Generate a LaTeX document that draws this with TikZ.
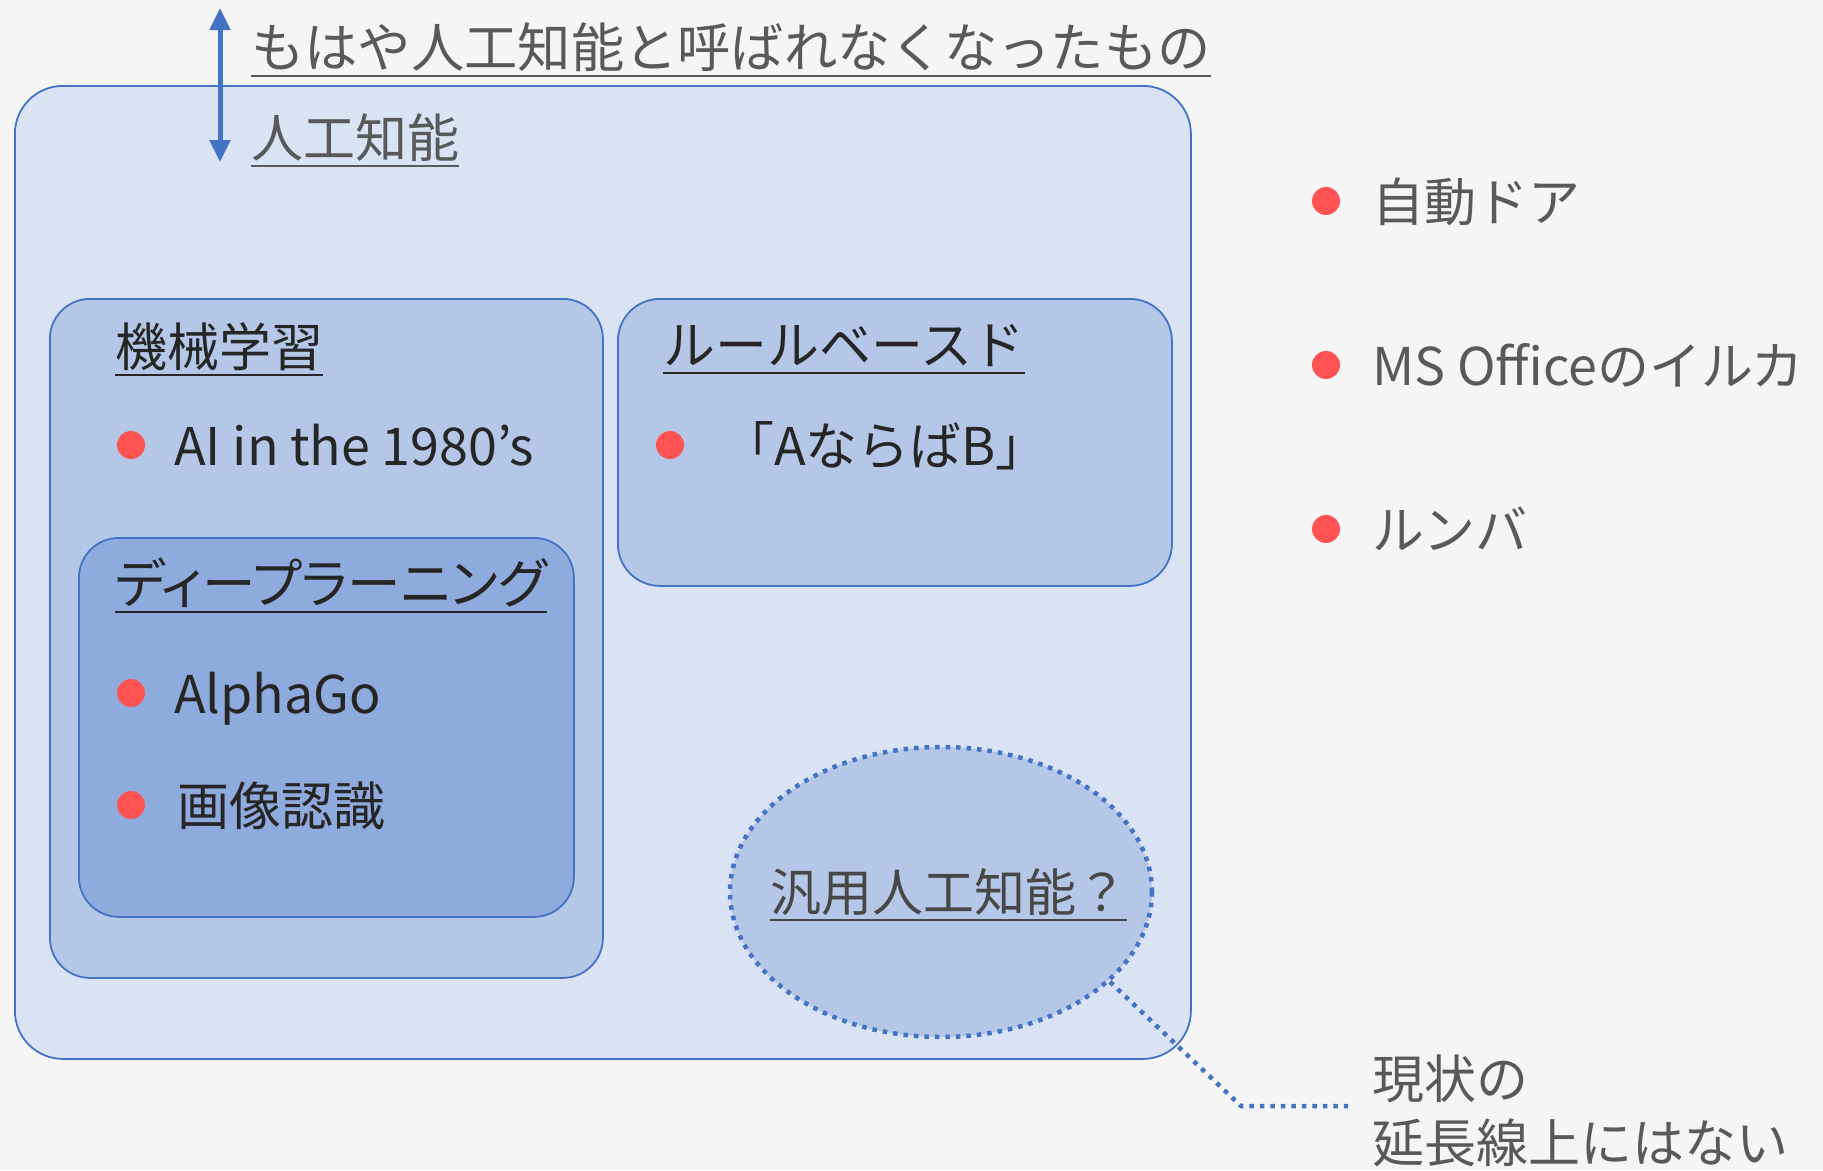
\documentclass[tikz,border=0pt]{standalone}
\usepackage{fontspec}
\setmainfont{Noto Sans CJK JP}
\newfontfamily\paltfont[RawFeature=+palt]{Noto Sans CJK JP}
\usetikzlibrary{arrows.meta,shapes.geometric}
\definecolor{bg}{HTML}{F5F5F5}
\definecolor{accent}{HTML}{4472C4}
\definecolor{outerfill}{HTML}{DAE3F3}
\definecolor{midfill}{HTML}{B4C7E7}
\definecolor{deepfill}{HTML}{8FAADC}
\definecolor{dotred}{HTML}{FF5353}
\definecolor{graytext}{HTML}{595959}
\definecolor{darktext}{HTML}{262626}
\begin{document}
\begin{tikzpicture}[x=1pt,y=-1pt,
  box/.style={draw=accent, line width=1.8pt, anchor=north west, inner sep=0pt},
  txt/.style={anchor=base west, inner sep=0pt, font=\fontsize{52}{60}\selectfont},
  reddot/.style={circle, fill=dotred, minimum size=28pt, inner sep=0pt},
  ul/.style={line width=2.6pt},
  dotline/.style={draw=accent, line width=4.5pt, dash pattern=on 4.5pt off 6pt}
]
\useasboundingbox[fill=bg] (0,0) rectangle (1823,1170);

% boxes
\node[box, fill=outerfill, rounded corners=48pt, minimum width=1176pt, minimum height=973pt] (ai) at (14,85) {};
\node[box, fill=midfill, rounded corners=40pt, minimum width=553pt, minimum height=679pt] (ml) at (49,298) {};
\node[box, fill=deepfill, rounded corners=40pt, minimum width=495pt, minimum height=379pt] (dl) at (78,537) {};
\node[box, fill=midfill, rounded corners=42pt, minimum width=554pt, minimum height=287pt] (rb) at (617,298) {};
\node[ellipse, draw=accent, fill=midfill, line width=4.5pt, dash pattern=on 4.5pt off 6pt,
      minimum width=422pt, minimum height=290pt, inner sep=0pt] (agi) at (941,892) {};

% connector from ellipse
\coordinate (bend) at (1241,1106);
\coordinate (lend) at (1348,1106);
\draw[dotline] (agi.-28) -- (bend) -- (lend);

% double arrow
\coordinate (arrtop) at (220,8);
\coordinate (arrbot) at (220,162);
\draw[accent, line width=5pt, {Triangle[width=20pt,length=22pt]}-{Triangle[width=20pt,length=22pt]}] (arrtop) -- (arrbot);

% top labels
\node[txt, text=graytext, font=\fontsize{53.3}{60}\selectfont] (former) at (251,67) {もはや人工知能と呼ばれなくなったもの};
\draw[ul, graytext] ([yshift=-9pt]former.base west) -- ([yshift=-9pt]former.base east);
\node[txt, text=graytext] (aititle) at (251,157) {人工知能};
\draw[ul, graytext] ([yshift=-9pt]aititle.base west) -- ([yshift=-9pt]aititle.base east);

% machine learning
\node[txt, text=darktext] (mltitle) at (115,366) {機械学習};
\draw[ul, darktext] ([yshift=-9pt]mltitle.base west) -- ([yshift=-9pt]mltitle.base east);
\node[reddot] (d1) at (131,445) {};
\node[txt, text=darktext] (t1) at (174,465) {AI in the 1980’s};

% deep learning
\node[txt, text=darktext, font=\paltfont\fontsize{53.6}{60}\selectfont] (dltitle) at (115,603) {ディープラーニング};
\draw[ul, darktext] ([yshift=-9pt]dltitle.base west) -- ([yshift=-9pt]dltitle.base east);
\node[reddot] (d2) at (131,693) {};
\node[txt, text=darktext] (t2) at (174,713) {AlphaGo};
\node[reddot] (d3) at (131,805) {};
\node[txt, text=darktext] (t3) at (177,825) {画像認識};

% rule based
\node[txt, text=darktext] (rbtitle) at (663,364) {ルールベースド};
\draw[ul, darktext] ([yshift=-9pt]rbtitle.base west) -- ([yshift=-9pt]rbtitle.base east);
\node[reddot] (d4) at (670,445) {};
\node[txt, text=darktext] (t4) at (722,465) {「AならばB」};

% AGI
\node[txt, text=darktext!85, font=\fontsize{51}{60}\selectfont] (agit) at (770,911) {汎用人工知能？};
\draw[ul, darktext!85] ([yshift=-9pt]agit.base west) -- ([yshift=-9pt]agit.base east);

% right bullets
\node[reddot] (d5) at (1326,201) {};
\node[txt, text=graytext] (t5) at (1372,221) {自動ドア};
\node[reddot] (d6) at (1326,365) {};
\node[txt, text=graytext] (t6) at (1372,385) {MS Officeのイルカ};
\node[reddot] (d7) at (1326,529) {};
\node[txt, text=graytext] (t7) at (1372,549) {ルンバ};

% note
\node[txt, text=graytext] (n1) at (1372,1098) {現状の};
\node[txt, text=graytext] (n2) at (1372,1162) {延長線上にはない};
\end{tikzpicture}
\end{document}
